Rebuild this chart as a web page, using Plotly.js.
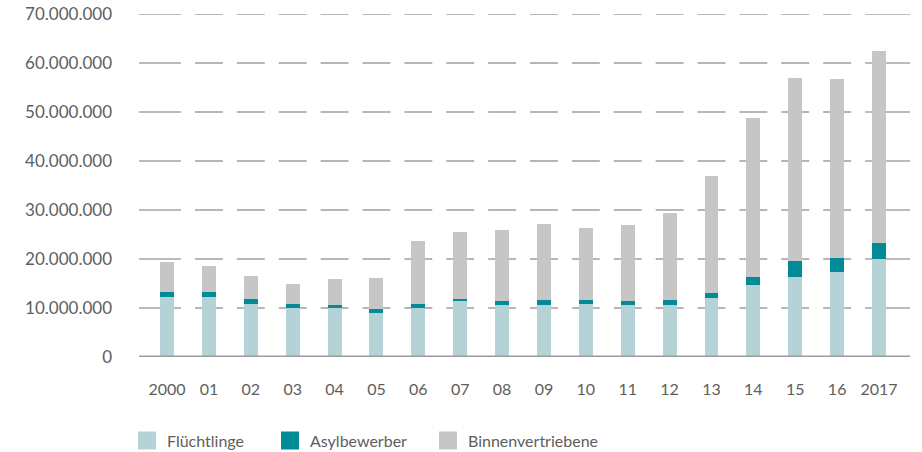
<!DOCTYPE html>
<html>
<head>
<meta charset="utf-8">
<script src="https://cdn.plot.ly/plotly-3.0.1.min.js"></script>
<style>html,body{margin:0;padding:0;background:#fff;}#chart{width:922px;height:452px;}</style>
</head>
<body>
<div id="chart"></div>
<script>
// ---- data ----
const years = ['2000','01','02','03','04','05','06','07','08','09','10','11','12','13','14','15','16','2017'];
const seriesNames = ['Flüchtlinge', 'Asylbewerber', 'Binnenvertriebene'];
const fluechtlinge = [12300000,12300000,10900000,9900000,9900000,8900000,10100000,11500000,10700000,10700000,10900000,10700000,10700000,12000000,14600000,16400000,17400000,20100000];
const asylbewerber = [1000000,1000000,1000000,1000000,800000,800000,700000,250000,800000,1000000,800000,800000,1000000,1100000,1800000,3200000,2900000,3200000];
const binnenvertriebene = [6000000,5200000,4700000,4100000,5300000,6500000,12800000,13700000,14400000,15500000,14700000,15500000,17600000,23900000,32300000,37400000,36500000,39100000];
const yTicks = [0,10000000,20000000,30000000,40000000,50000000,60000000,70000000];

// ---- style ----
const colors = ['#b5d3d7', '#008b96', '#c6c6c6'];
const fontFamily = 'Lato, "Open Sans", sans-serif';
const textColor = '#5e5e5e';
const gridColor = '#a4a4a4';

const seriesValues = [fluechtlinge, asylbewerber, binnenvertriebene];
const traces = seriesNames.map((name, k) => ({
  type: 'bar',
  name: name,
  x: years,
  y: seriesValues[k],
  marker: {color: colors[k], line: {width: 0}},
  hoverinfo: 'x+y+name'
}));

const xMin = -0.67, xMax = 17.74;
const gap = 0.167;
const shapes = [];
// broken gridlines (segments interrupted midway between categories)
yTicks.filter(v => v > 0).forEach(v => {
  years.forEach((_, i) => {
    shapes.push({
      type: 'line', layer: 'below', xref: 'x', yref: 'y',
      x0: i === 0 ? xMin : i - 0.5 + gap,
      x1: i === years.length - 1 ? xMax : i + 0.5 - gap,
      y0: v, y1: v,
      line: {color: gridColor, width: 1.6}
    });
  });
});
// baseline
shapes.push({
  type: 'line', layer: 'above', xref: 'paper', yref: 'y',
  x0: 0, x1: 1, y0: 0, y1: 0,
  line: {color: '#9c9c9c', width: 3}
});

// custom legend (square swatches + labels)
const plotLeft = 139, plotWidth = 771, plotBottom = 357.5, plotHeight = 343.5;
const legendSquareX = [138, 281, 439];
const legendCenterY = 441;
const annotations = [];
seriesNames.forEach((name, k) => {
  shapes.push({
    type: 'rect', xref: 'paper', yref: 'paper',
    xsizemode: 'pixel', ysizemode: 'pixel',
    xanchor: 0, yanchor: 0,
    x0: legendSquareX[k] - plotLeft, x1: legendSquareX[k] - plotLeft + 18,
    y0: -(legendCenterY - plotBottom) - 9, y1: -(legendCenterY - plotBottom) + 9,
    fillcolor: colors[k], line: {width: 0}
  });
  annotations.push({
    xref: 'paper', yref: 'paper',
    x: (legendSquareX[k] + 27 - plotLeft) / plotWidth,
    y: -(legendCenterY - plotBottom) / plotHeight,
    xanchor: 'left', yanchor: 'middle',
    text: name, showarrow: false,
    font: {family: fontFamily, size: 16, color: textColor}
  });
});

const layout = {
  width: 922, height: 452,
  margin: {l: 139, r: 12, t: 14, b: 94.5},
  paper_bgcolor: '#fff', plot_bgcolor: '#fff',
  barmode: 'stack',
  bargap: 0.666,
  showlegend: false,
  separators: ',.',
  font: {family: fontFamily, size: 16, color: textColor},
  xaxis: {
    type: 'category', range: [xMin, xMax],
    showgrid: false, showline: false, zeroline: false, ticks: '',
    ticklabelstandoff: 21,
    tickfont: {family: fontFamily, size: 16, color: textColor}
  },
  yaxis: {
    range: [0, 70000000],
    tickvals: yTicks, tickformat: ',d',
    showgrid: false, zeroline: false, showline: false, ticks: '',
    ticklabelstandoff: 26,
    tickfont: {family: fontFamily, size: 17, color: textColor}
  },
  shapes: shapes,
  annotations: annotations
};

Plotly.newPlot('chart', traces, layout, {displayModeBar: false, responsive: false});
</script>
</body>
</html>
